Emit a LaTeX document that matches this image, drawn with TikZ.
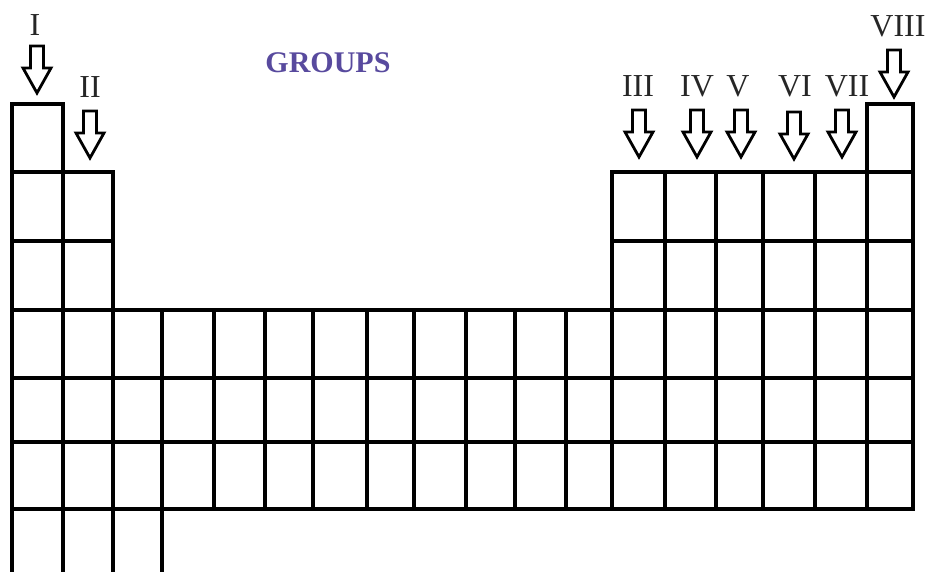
\documentclass[tikz,border=0pt]{standalone}
\usepackage{fontspec}
\setmainfont{Liberation Serif}
\definecolor{grouppurple}{RGB}{88,74,158}
\tikzset{
  gridline/.style={line width=3.2pt, line cap=rect, black},
  garrowline/.style={line width=2.8pt, black, line join=miter, fill=white},
  glabel/.style={font=\fontsize{32}{36}\selectfont, anchor=base, inner sep=0pt, text=black!85},
  gtitle/.style={font=\fontsize{30}{34}\selectfont\bfseries, anchor=base, inner sep=0pt, text=grouppurple},
  pics/grouparrow/.style={code={
    \draw[garrowline] (-6.5,0) -- (6.5,0) -- (6.5,22) -- (14,22) -- (0,47) -- (-14,22) -- (-6.5,22) -- cycle;
  }}
}
\begin{document}
\begin{tikzpicture}[x=1pt,y=-1pt]
\useasboundingbox (0,0) rectangle (926,572);
% horizontal lines
\draw[gridline] (12,104) -- (63,104);
\draw[gridline] (867,104) -- (913,104);
\draw[gridline] (12,172) -- (113,172);
\draw[gridline] (612,172) -- (913,172);
\draw[gridline] (12,241) -- (113,241);
\draw[gridline] (612,241) -- (913,241);
\foreach \y in {310,378,442,509} \draw[gridline] (12,\y) -- (913,\y);
% vertical lines
\draw[gridline] (12,104) -- (12,575);
\draw[gridline] (63,104) -- (63,575);
\draw[gridline] (113,172) -- (113,575);
\draw[gridline] (162,310) -- (162,575);
\foreach \x in {214,265,313,367,414,466,515,566} \draw[gridline] (\x,310) -- (\x,509);
\draw[gridline] (612,172) -- (612,509);
\foreach \x in {665,716,763,815} \draw[gridline] (\x,172) -- (\x,509);
\draw[gridline] (867,104) -- (867,509);
\draw[gridline] (913,104) -- (913,509);
% arrows
\pic at (37,46) {grouparrow};
\pic at (90,111) {grouparrow};
\pic at (639,110) {grouparrow};
\pic at (697,110) {grouparrow};
\pic at (741,110) {grouparrow};
\pic at (794,112) {grouparrow};
\pic at (842,110) {grouparrow};
\pic at (894,50) {grouparrow};
% labels
\node[glabel] (lI) at (35,36) {I};
\node[glabel] (lII) at (90,98) {II};
\node[glabel] (lIII) at (638,97) {III};
\node[glabel] (lIV) at (697,97) {IV};
\node[glabel] (lV) at (738,97) {V};
\node[glabel] (lVI) at (795,97) {VI};
\node[glabel] (lVII) at (847,97) {VII};
\node[glabel] (lVIII) at (898,37) {VIII};
\node[gtitle] (title) at (328,73) {GROUPS};
\end{tikzpicture}
\end{document}
